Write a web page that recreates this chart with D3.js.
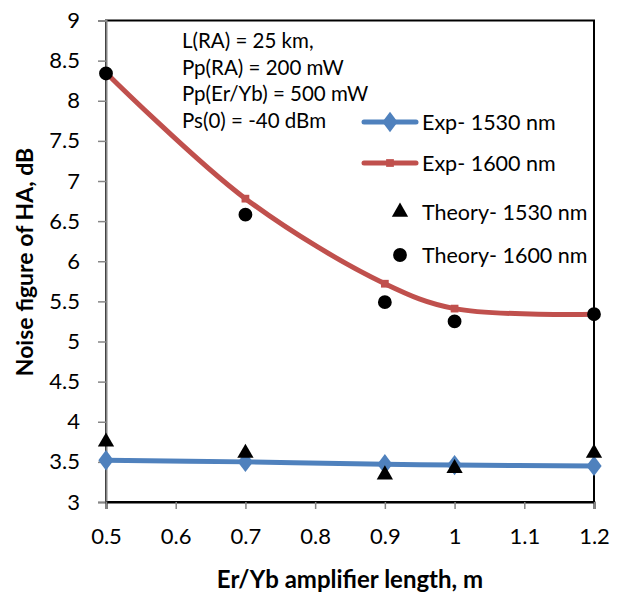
<!DOCTYPE html>
<html>
<head>
<meta charset="utf-8">
<script src="https://cdn.jsdelivr.net/npm/d3@7"></script>
<style>
  html, body { margin: 0; padding: 0; background: #fff; }
  svg { display: block; font-family: Lato, "Open Sans", sans-serif; }
</style>
</head>
<body>
<svg id="chart" width="620" height="592"></svg>
<script>
// Amplifier lengths (m)
const lengths = [0.5, 0.7, 0.9, 1.0, 1.2];

// Noise figure (dB), measured and simulated
const exp1530 = [3.52, 3.50, 3.47, 3.46, 3.45];
const exp1600 = [8.35, 6.78, 5.72, 5.41, 5.34];
const theory1530 = [3.75, 3.61, 3.34, 3.42, 3.61];
const theory1600 = [8.34, 6.58, 5.49, 5.25, 5.34];

const xTicks = [0.5, 0.6, 0.7, 0.8, 0.9, 1.0, 1.1, 1.2];
const yTicks = [3, 3.5, 4, 4.5, 5, 5.5, 6, 6.5, 7, 7.5, 8, 8.5, 9];

const notes = ["L(RA) = 25 km,", "Pp(RA) = 200 mW", "Pp(Er/Yb) = 500 mW", "Ps(0) = -40 dBm"];
const legendLabels = ["Exp- 1530 nm", "Exp- 1600 nm", "Theory- 1530 nm", "Theory- 1600 nm"];

const BLUE = "#4F81BD", RED = "#C0504D";

const svg = d3.select("#chart");
const plotL = 106, plotR = 594, plotT = 20.5, plotB = 502;

const x = d3.scaleLinear().domain([0.5, 1.2]).range([plotL, plotR]);
const y = d3.scaleLinear().domain([3, 9]).range([plotB, plotT]);

// plot frame
svg.append("rect")
  .attr("x", plotL).attr("y", plotT)
  .attr("width", plotR - plotL).attr("height", plotB - plotT)
  .attr("fill", "none").attr("stroke", "#000").attr("stroke-width", 2);

// axes
const fmt = d => d3.format("")(d);
const yAxis = svg.append("g")
  .attr("transform", `translate(${plotL},0)`)
  .call(d3.axisLeft(y).tickValues(yTicks).tickSize(8).tickPadding(18).tickFormat(fmt));
const xAxis = svg.append("g")
  .attr("transform", `translate(0,${plotB})`)
  .call(d3.axisBottom(x).tickValues(xTicks).tickSize(7).tickPadding(19).tickFormat(fmt));

[yAxis, xAxis].forEach(g => {
  g.select(".domain").attr("stroke", "#868686").attr("stroke-width", 2);
  g.selectAll(".tick line").attr("stroke", "#868686").attr("stroke-width", 1.5);
  g.selectAll(".tick text").attr("fill", "#000").attr("font-size", 22)
    .attr("font-family", "Lato, sans-serif");
});
xAxis.select(".domain").attr("stroke", "#000");

// axis titles
svg.append("text")
  .attr("x", 350).attr("y", 588)
  .attr("text-anchor", "middle")
  .attr("font-size", 24).attr("font-weight", "bold")
  .text("Er/Yb amplifier length, m");

svg.append("text")
  .attr("transform", `translate(33,262) rotate(-90)`)
  .attr("text-anchor", "middle")
  .attr("font-size", 23).attr("font-weight", "bold")
  .text("Noise figure of HA, dB");

// measured curves
const smooth = d3.line()
  .x(d => x(d[0])).y(d => y(d[1]))
  .curve(d3.curveCatmullRom.alpha(0.5));

const blueData = d3.zip(lengths, exp1530);
const redData = d3.zip(lengths, exp1600);

svg.append("path").datum(blueData)
  .attr("d", smooth).attr("fill", "none")
  .attr("stroke", BLUE).attr("stroke-width", 5).attr("stroke-linecap", "round");

svg.append("path").datum(redData)
  .attr("d", smooth).attr("fill", "none")
  .attr("stroke", RED).attr("stroke-width", 5).attr("stroke-linecap", "round");

const diamond = d3.symbol().type(d3.symbolDiamond).size(120);
const square = d3.symbol().type(d3.symbolSquare).size(60);
const triangle = d3.symbol().type(d3.symbolTriangle).size(115);
const circle = d3.symbol().type(d3.symbolCircle).size(150);

svg.append("g").selectAll("path").data(blueData).join("path")
  .attr("transform", d => `translate(${x(d[0])},${y(d[1])}) scale(1.3,1)`)
  .attr("d", diamond).attr("fill", BLUE);

svg.append("g").selectAll("path").data(redData).join("path")
  .attr("transform", d => `translate(${x(d[0])},${y(d[1])})`)
  .attr("d", square).attr("fill", RED);

// simulated points
svg.append("g").selectAll("path").data(d3.zip(lengths, theory1530)).join("path")
  .attr("transform", d => `translate(${x(d[0])},${y(d[1])})`)
  .attr("d", triangle).attr("fill", "#000");

svg.append("g").selectAll("path").data(d3.zip(lengths, theory1600)).join("path")
  .attr("transform", d => `translate(${x(d[0])},${y(d[1])})`)
  .attr("d", circle).attr("fill", "#000");

// parameter notes
svg.append("g").selectAll("text").data(notes).join("text")
  .attr("x", 182).attr("y", (d, i) => 48 + i * 26.7)
  .attr("font-size", 20.5)
  .text(d => d);

// legend
const legendY = [122, 163, 212, 255];
const lg = svg.append("g");
lg.append("line").attr("x1", 364).attr("x2", 416).attr("y1", legendY[0]).attr("y2", legendY[0])
  .attr("stroke", BLUE).attr("stroke-width", 5).attr("stroke-linecap", "round");
lg.append("path").attr("transform", `translate(390,${legendY[0]}) scale(1.3,1)`).attr("d", diamond).attr("fill", BLUE);
lg.append("line").attr("x1", 364).attr("x2", 416).attr("y1", legendY[1]).attr("y2", legendY[1])
  .attr("stroke", RED).attr("stroke-width", 5).attr("stroke-linecap", "round");
lg.append("path").attr("transform", `translate(390,${legendY[1]})`).attr("d", square).attr("fill", RED);
lg.append("path").attr("transform", `translate(400,${legendY[2]})`).attr("d", triangle).attr("fill", "#000");
lg.append("path").attr("transform", `translate(400,${legendY[3]})`).attr("d", circle).attr("fill", "#000");

lg.selectAll("text").data(legendLabels).join("text")
  .attr("x", 422)
  .attr("y", (d, i) => legendY[i] + 8)
  .attr("font-size", 21.5)
  .text(d => d);
</script>
</body>
</html>
